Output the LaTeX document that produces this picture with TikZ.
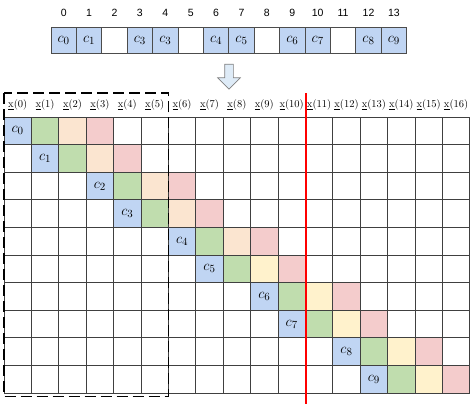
\documentclass[tikz,border=0pt]{standalone}
\usepackage{fontspec}
\usepackage{xcolor}
\newfontfamily\idxfont{Liberation Sans}
\usetikzlibrary{shapes.arrows}
\definecolor{cblue}{HTML}{C0D5F3}
\definecolor{cgreen}{HTML}{C0DDAE}
\definecolor{cpeach}{HTML}{FBE5D0}
\definecolor{cyellow}{HTML}{FFF2CC}
\definecolor{cpink}{HTML}{F4CCCC}
\definecolor{arrowbg}{HTML}{DEEBF7}

\begin{document}
\begin{tikzpicture}[x=1pt, y=-1pt,
  slot/.style={draw=black!70, line width=0.7pt, minimum width=25.4pt,
               minimum height=26pt, inner sep=0pt, font=\fontsize{15}{15}\selectfont},
  idx/.style={font=\idxfont\fontsize{10.5}{10.5}\selectfont},
  cell/.style={draw=black!75, line width=0.7pt, minimum width=27.4pt,
               minimum height=27.6pt, inner sep=0pt, font=\fontsize{15}{15}\selectfont},
  hdr/.style={font=\fontsize{10.5}{10.5}\selectfont, inner sep=0pt},
  downarrow/.style={single arrow, shape border rotate=270, draw=black!50, fill=arrowbg,
                    line width=0.7pt, minimum height=25pt, minimum width=22pt,
                    inner sep=4pt, single arrow head extend=7pt},
  dashbox/.style={line width=1.5pt, dash pattern=on 11pt off 5pt},
  redline/.style={red, line width=2pt}
]
  \useasboundingbox (0,0) rectangle (474,404);

  % source array
  \foreach \i in {0,...,13}
    \node[idx] (idx\i) at ({63.7+25.4*\i}, 13) {\i};
  \foreach \i in {2,5,8,11}
    \node[slot] (slot\i) at ({63.7+25.4*\i}, 40) {};
  \foreach \i/\k in {0/0,1/1,3/3,4/3,6/4,7/5,9/6,10/7,12/8,13/9}
    \node[slot, fill=cblue] (slot\i) at ({63.7+25.4*\i}, 40) {$c_{\k}$};

  \node[downarrow] (arr) at (229, 74.5) {};

  % header row
  \foreach \c in {0,...,16}
    \node[hdr] (h\c) at ({17.7+27.4*\c}, 105) {\underline{x}(\c)};

  % grid
  \foreach \r in {0,...,9}
    \foreach \c in {0,...,16}
      \node[cell] (g-\r-\c) at ({17.7+27.4*\c}, {130.8+27.6*\r}) {};

  % coloured bands
  \foreach \r/\c/\third in {0/0/cpeach,1/1/cpeach,2/3/cpeach,3/4/cpeach,4/6/cpeach,
                            5/7/cyellow,6/9/cyellow,7/10/cyellow,8/12/cyellow,9/13/cyellow}{
    \pgfmathtruncatemacro{\ca}{\c+1}
    \pgfmathtruncatemacro{\cb}{\c+2}
    \pgfmathtruncatemacro{\cc}{\c+3}
    \node[cell, fill=cblue] (c\r) at (g-\r-\c) {$c_{\r}$};
    \node[cell, fill=cgreen] (gr\r) at (g-\r-\ca) {};
    \node[cell, fill=\third] (th\r) at (g-\r-\cb) {};
    \node[cell, fill=cpink] (pk\r) at (g-\r-\cc) {};
  }

  \draw[dashbox] (4,93) rectangle (168.4,396.5);
  \draw[redline] (305.8,93) -- (305.8,404);
\end{tikzpicture}
\end{document}
